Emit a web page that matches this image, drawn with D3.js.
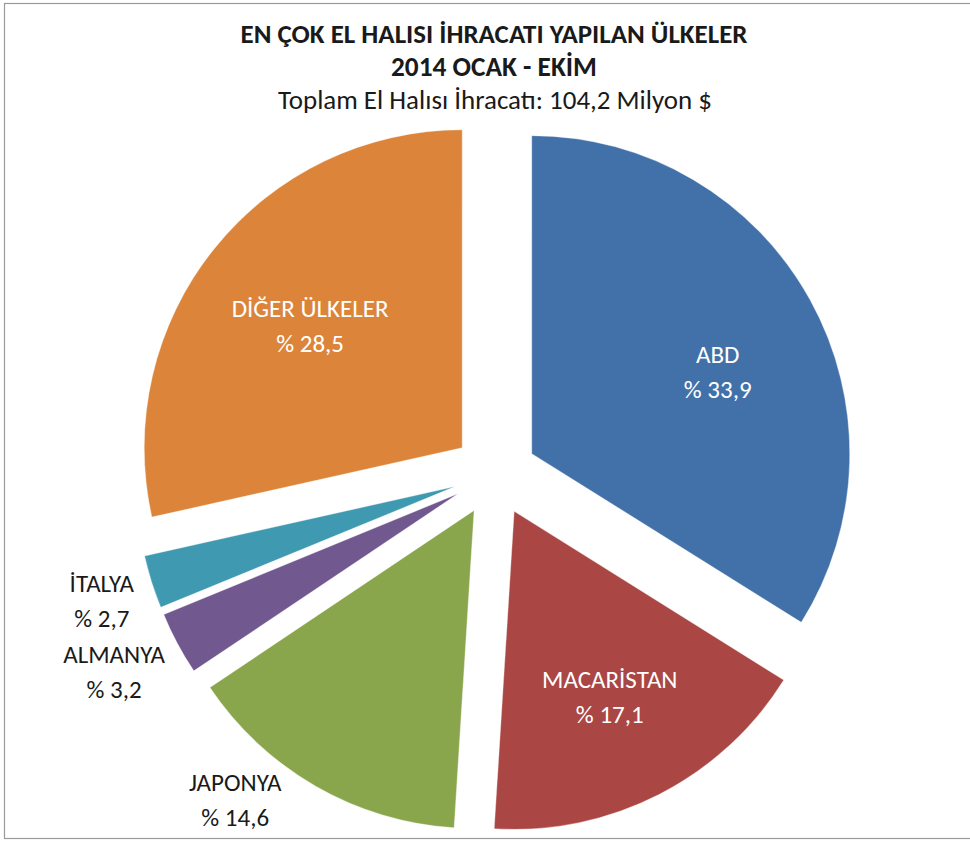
<!DOCTYPE html>
<html>
<head>
<meta charset="utf-8">
<script src="https://cdn.jsdelivr.net/npm/d3@7"></script>
<style>
  html, body { margin: 0; padding: 0; background: #fff; }
  svg { display: block; }
</style>
</head>
<body>
<svg></svg>
<script>
// Ülke adları ve yüzde payları (saat 12'den başlayıp saat yönünde)
const countries = ["ABD", "MACARİSTAN", "JAPONYA", "ALMANYA", "İTALYA", "DİĞER ÜLKELER"];
const shares = [33.9, 17.1, 14.6, 3.2, 2.7, 28.5];
const shareLabels = ["% 33,9", "% 17,1", "% 14,6", "% 3,2", "% 2,7", "% 28,5"];
const colors = ["#4171A8", "#AA4643", "#89A64C", "#71588F", "#3F99B1", "#DC853A"];

const titleLines = ["EN ÇOK EL HALISI İHRACATI YAPILAN ÜLKELER", "2014 OCAK - EKİM"];
const subtitle = "Toplam El Halısı İhracatı: 104,2 Milyon $";

// Etiket yerleşimi: merkeze uzaklık (yarıçap oranı), açı kaydırması (derece), iç/dış
const labelLayout = [
  {k: 0.77, nudge: 4.4, inside: true},
  {k: 0.79, nudge: 0, inside: true},
  {k: 1.31, nudge: 8.7, inside: false},
  {k: 1.35, nudge: 0.6, inside: false},
  {k: 1.30, nudge: -0.5, inside: false},
  {k: 0.745, nudge: 0, inside: true}
];

const width = 970;
const height = 841;
const cx = 495;
const cy = 474;
const radius = 318;
const explode = 42;

const font = "Calibri, Carlito, Lato, 'Open Sans', sans-serif";

const svg = d3.select("svg")
    .attr("width", width)
    .attr("height", height)
    .attr("viewBox", [0, 0, width, height]);

// çerçeve
svg.append("rect")
    .attr("x", 4.5)
    .attr("y", 3.5)
    .attr("width", width + 20)
    .attr("height", 835)
    .attr("fill", "#fff")
    .attr("stroke", "#9a9a9a")
    .attr("stroke-width", 1.2);

// başlık (genişliği referansa göre ayarlanıyor)
const title = svg.append("g")
    .attr("font-family", font)
    .attr("text-anchor", "middle")
    .attr("fill", "#1a1a1a");

function fitText(sel, targetWidth) {
  sel.each(function() {
    const w = this.getComputedTextLength();
    const fs = +this.getAttribute("font-size");
    this.setAttribute("font-size", (fs * targetWidth / w).toFixed(2));
  });
}

const titleWidths = [507, 206];

title.selectAll("text.t")
  .data(titleLines)
  .join("text")
    .attr("class", "t")
    .attr("x", 494)
    .attr("y", (d, i) => 43 + i * 33)
    .attr("font-size", 20)
    .attr("font-weight", "bold")
    .text(d => d)
    .each(function(d, i) { fitText(d3.select(this), titleWidths[i]); });

title.append("text")
    .attr("x", 495)
    .attr("y", 109)
    .attr("font-size", 20)
    .text(subtitle)
    .call(fitText, 434);

const data = countries.map((name, i) => ({name, value: shares[i], label: shareLabels[i], color: colors[i], layout: labelLayout[i]}));

const pie = d3.pie()
    .sort(null)
    .value(d => d.value);

const arcs = pie(data);

const arc = d3.arc()
    .innerRadius(0)
    .outerRadius(radius);

// dilimler dışarı çekiliyor
const g = svg.append("g")
    .attr("transform", `translate(${cx},${cy})`);

g.selectAll("path")
  .data(arcs)
  .join("path")
    .attr("transform", d => {
      const a = (d.startAngle + d.endAngle) / 2;
      return `translate(${Math.sin(a) * explode},${-Math.cos(a) * explode})`;
    })
    .attr("fill", d => d.data.color)
    .attr("stroke", "rgba(255,255,255,0.35)")
    .attr("stroke-width", 1)
    .attr("d", arc);

// etiketler
const labels = g.append("g")
    .attr("font-family", font)
    .attr("font-size", 25)
    .attr("text-anchor", "middle");

labels.selectAll("text")
  .data(arcs)
  .join("text")
    .attr("fill", d => d.data.layout.inside ? "#fff" : "#1a1a1a")
    .attr("transform", d => {
      const a = (d.startAngle + d.endAngle) / 2 + d.data.layout.nudge * Math.PI / 180;
      const r = radius * d.data.layout.k;
      return `translate(${Math.sin(a) * r},${-Math.cos(a) * r})`;
    })
    .call(t => t.append("tspan")
        .attr("x", 0)
        .attr("y", -9)
        .text(d => d.data.name))
    .call(t => t.append("tspan")
        .attr("x", 0)
        .attr("y", 26)
        .text(d => d.data.label));
</script>
</body>
</html>
